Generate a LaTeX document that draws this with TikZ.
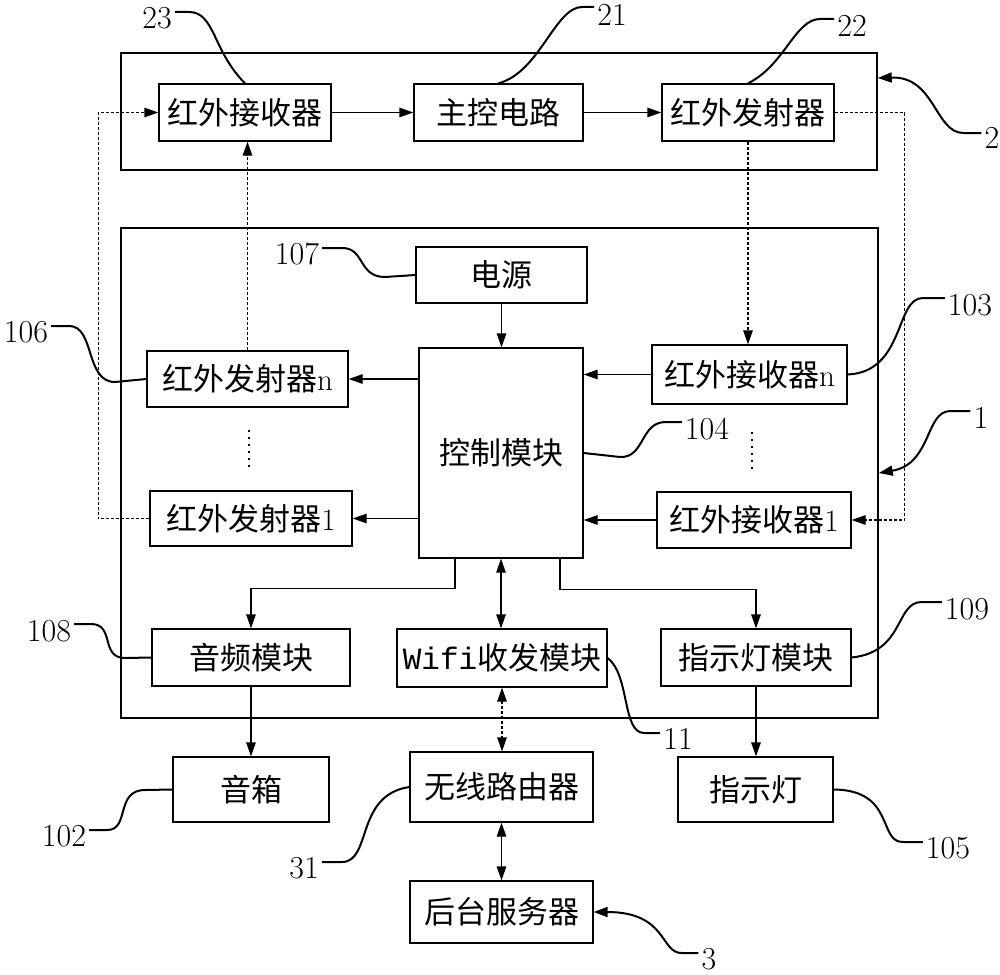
\documentclass[tikz,border=0pt]{standalone}
\usepackage{fontspec}
\newfontfamily\cjk{Noto Sans CJK SC}
\newfontfamily\monof{Liberation Mono}
\newcommand{\zhtxt}[1]{{\cjk #1}}
\usetikzlibrary{arrows.meta}
\begin{document}
\begin{tikzpicture}[x=1pt,y=-1pt,
  box/.style={draw, line width=1.3pt, inner sep=0pt, font=\fontsize{31}{36}\selectfont},
  frame/.style={draw, line width=1.5pt, inner sep=0pt},
  num/.style={inner sep=3pt, font=\fontsize{32}{36}\selectfont},
  arr/.style={line width=1.3pt, -{Triangle[length=14pt,width=9.5pt]}},
  darr/.style={line width=1.3pt, {Triangle[length=14pt,width=9.5pt]}-{Triangle[length=14pt,width=9.5pt]}},
  dot/.style={dash pattern=on 3pt off 2pt},
  lead/.style={line width=2pt},
  larr/.style={line width=2pt, -{Triangle[length=14pt,width=10pt]}},
  vdots/.style={line width=2.2pt, dash pattern=on 2pt off 5pt}
]
\useasboundingbox (0,0) rectangle (1000,974);

% frames
\node[frame, minimum width=756pt, minimum height=117pt] (box2) at (499,111.5) {};
\node[frame, minimum width=757pt, minimum height=490pt] (box1) at (499.5,473) {};

% top boxes
\node[box, minimum width=172pt, minimum height=57pt] (n23) at (245,112.5) {\zhtxt{红外接收器}};
\node[box, minimum width=169pt, minimum height=57pt] (n21) at (498.5,112.5) {\zhtxt{主控电路}};
\node[box, minimum width=172pt, minimum height=57pt] (n22) at (748,112.5) {\zhtxt{红外发射器}};

% middle boxes
\node[box, minimum width=171pt, minimum height=56pt] (n107) at (501.5,275) {\zhtxt{电源}};
\node[box, minimum width=164pt, minimum height=210pt] (n104) at (501,453) {\zhtxt{控制模块}};
\node[box, minimum width=201pt, minimum height=56pt] (n106) at (247.5,379) {\zhtxt{红外发射器}n};
\node[box, minimum width=202pt, minimum height=55pt] (ntx1) at (251,518.5) {\zhtxt{红外发射器}1};
\node[box, minimum width=195pt, minimum height=59pt] (n103) at (749.5,374.5) {\zhtxt{红外接收器}n};
\node[box, minimum width=194pt, minimum height=56pt] (nrx1) at (754,520) {\zhtxt{红外接收器}1};

% bottom boxes
\node[box, minimum width=198pt, minimum height=57pt] (n108) at (251,657.5) {\zhtxt{音频模块}};
\node[box, minimum width=210pt, minimum height=58pt] (n11) at (502,658) {{\monof Wifi}\zhtxt{收发模块}};
\node[box, minimum width=190pt, minimum height=57pt] (n109) at (756,657.5) {\zhtxt{指示灯模块}};
\node[box, minimum width=156pt, minimum height=65pt] (n102) at (251,789.5) {\zhtxt{音箱}};
\node[box, minimum width=183pt, minimum height=70pt] (n31) at (501.5,787) {\zhtxt{无线路由器}};
\node[box, minimum width=155pt, minimum height=65pt] (n105) at (755.5,789.5) {\zhtxt{指示灯}};
\node[box, minimum width=183pt, minimum height=62pt] (n3) at (501.5,912) {\zhtxt{后台服务器}};

% vertical ellipses
\draw[vdots] (249,430) -- (249,467);
\draw[vdots] (752,432) -- (752,469);

% connectors
\draw[arr] (n23) -- (n21);
\draw[arr] (n21) -- (n22);
\draw[arr, dot] (n22.south) -- (n22.south |- n103.north);
\draw[arr, dot] (n106.north) -- (n106.north |- n23.south);
\draw[arr, dot] (ntx1.west) -- ++(-51,0) |- (n23.west);
\draw[arr, dot] (n22.east) -- ++(70,0) |- (nrx1.east);
\draw[arr] (n104.west |- n106.east) -- (n106.east);
\draw[arr] (n104.west |- ntx1.east) -- (ntx1.east);
\draw[arr] (n103.west) -- (n103.west -| n104.east);
\draw[arr] (nrx1.west) -- (nrx1.west -| n104.east);
\draw[arr] (n107.south) -- (n107.south |- n104.north);
\draw[arr] ([xshift=-46pt]n104.south) -- ++(0,30) -| (n108.north);
\draw[arr] ([xshift=59pt]n104.south) -- ++(0,31) -| (n109.north);
\draw[darr] (n104.south) -- (n104.south |- n11.north);
\draw[darr, dot] (n11.south) -- (n11.south |- n31.north);
\draw[darr] (n31.south) -- (n3.north);
\draw[arr] (n108.south) -- (n102.north);
\draw[arr] (n109.south) -- (n109.south |- n105.north);

% labels
\node[num] (l23) at (157,18) {23};
\node[num] (l21) at (612,15) {21};
\node[num] (l22) at (852,26) {22};
\node[num] (l2) at (992,138) {2};
\node[num] (l107) at (297,254) {107};
\node[num] (l106) at (26,332) {106};
\node[num] (l103) at (970,305) {103};
\node[num] (l104) at (707,429) {104};
\node[num] (l1) at (981,418) {1};
\node[num] (l108) at (49,631) {108};
\node[num] (l102) at (64,836) {102};
\node[num] (l31) at (304,868) {31};
\node[num] (l11) at (678,739) {11};
\node[num] (l109) at (967,609) {109};
\node[num] (l105) at (948,848) {105};
\node[num] (l3) at (709,959) {3};

% leaders
\draw[lead] ([yshift=6pt]l23.east) -- ++(14,0) .. controls (215,12) and (212,50) .. (n23.north);
\draw[lead] ([yshift=8pt]l21.west) -- ++(-12,0) .. controls (555,7) and (540,72) .. (n21.north);
\draw[lead] ([yshift=7pt]l22.west) -- ++(-14,0) .. controls (795,19) and (785,65) .. (n22.north);
\draw[larr] ([yshift=5pt]l2.west) -- ++(-18,0) .. controls (935,133) and (935,76) .. ([yshift=33.5pt]box2.east);
\draw[lead] ([yshift=6pt]l107.east) -- ++(20,0) .. controls (365,248) and (358,277) .. (385,277) -- (n107.west);
\draw[lead] ([yshift=6pt]l106.east) -- ++(18,0) .. controls (95,326) and (85,382) .. (115,382) -- (n106.west);
\draw[lead] ([yshift=7pt]l103.west) -- ++(-22,0) .. controls (895,298) and (905,372) .. (n103.east);
\draw[lead] ([yshift=7pt]l104.west) -- ++(-16,0) .. controls (640,422) and (645,458) .. (620,457) -- (n104.east);
\draw[larr] ([yshift=7pt]l1.west) -- ++(-20,0) .. controls (925,411) and (932,464) .. (box1.east);
\draw[lead] ([yshift=7pt]l108.east) -- ++(17,0) .. controls (115,624) and (100,658) .. (125,658) -- (n108.west);
\draw[lead] ([yshift=6pt]l102.east) -- ++(18,0) .. controls (130,830) and (115,790) .. (145,790) -- (n102.west);
\draw[lead] ([yshift=6pt]l31.east) -- ++(20,0) .. controls (372,862) and (355,795) .. (n31.west);
\draw[lead] ([yshift=6pt]l11.west) -- ++(-16,0) .. controls (622,733) and (630,675) .. (n11.east);
\draw[lead] ([yshift=7pt]l109.west) -- ++(-20,0) .. controls (895,602) and (905,652) .. (n109.east);
\draw[lead] ([yshift=6pt]l105.west) -- ++(-20,0) .. controls (878,842) and (895,790) .. (n105.east);
\draw[larr] ([yshift=6pt]l3.west) -- ++(-16,0) .. controls (660,954) and (668,912) .. (n3.east);
\end{tikzpicture}
\end{document}
